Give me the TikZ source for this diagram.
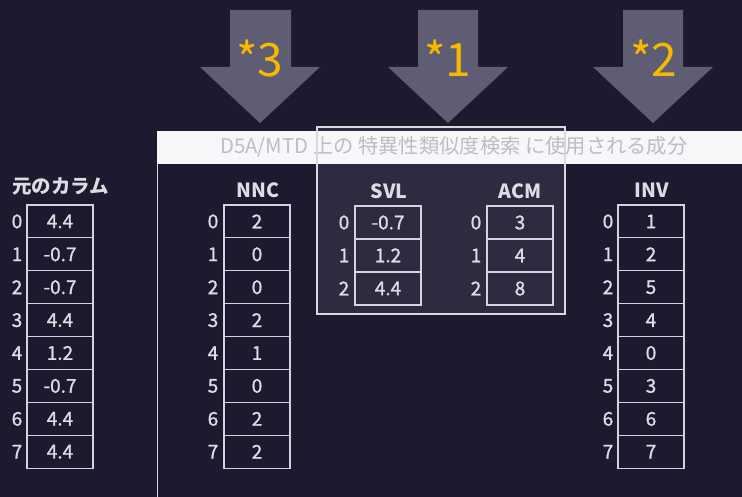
\documentclass[tikz,border=0pt]{standalone}
\usepackage{fontspec}
\setmainfont{Noto Sans CJK JP}
\newfontfamily\numfont[FakeBold=1.2]{Noto Sans CJK JP}
\definecolor{bg}{HTML}{1B1A2E}
\definecolor{hilite}{HTML}{2C2B40}
\definecolor{arrowc}{HTML}{5F5D73}
\definecolor{gold}{HTML}{F7B900}
\definecolor{txt}{HTML}{DCDCE2}
\definecolor{line}{HTML}{D4D4DC}
\definecolor{strip}{HTML}{F7F7F9}
\definecolor{striptxt}{HTML}{BDBDC2}
\tikzset{
  x=1pt, y=-1pt,
  cell/.style={draw=line, line width=1.2pt, minimum width=66pt, minimum height=32.9pt, inner sep=0pt, text=txt, font=\numfont\fontsize{19}{22}\selectfont},
  idx/.style={text=txt, font=\numfont\fontsize{19}{22}\selectfont, inner sep=0pt},
  hdr/.style={text=txt, font=\fontsize{19.5}{22}\selectfont\bfseries, inner sep=0pt},
  bigarrow/.style={fill=arrowc, draw=none},
  star/.style={text=gold, font=\fontsize{46}{50}\selectfont, inner sep=0pt, anchor=base}
}
\begin{document}
\begin{tikzpicture}
\fill[bg] (0,0) rectangle (742,497);
\useasboundingbox (0,0) rectangle (742,497);

% arrows
\fill[bigarrow] (230,10) -- (291,10) -- (291,67) -- (320,67) -- (260,123) -- (200,67) -- (230,67) -- cycle;
\fill[bigarrow] (418,10) -- (478,10) -- (478,67) -- (508,67) -- (448,123) -- (388,67) -- (418,67) -- cycle;
\fill[bigarrow] (623,10) -- (683,10) -- (683,67) -- (713,67) -- (653,123) -- (593,67) -- (623,67) -- cycle;
\node[star] (s3) at (260,77) {*3};
\node[star] (s1) at (448,77) {*1};
\node[star] (s2) at (654,77) {*2};

% highlight box fill
\fill[hilite] (317,127) rectangle (565,314);
% frame left line and strip
\draw[line, line width=1.5pt] (157.5,131) -- (157.5,497);
\fill[strip] (157,131) rectangle (742,164);
\node[text=striptxt, font=\fontsize{20.3}{23}\selectfont, inner sep=0pt] (title) at (454,147) {D5A/MTD 上の 特異性類似度検索 に使用される成分};
% highlight box outline
\draw[draw=line!90!white, line width=1.5pt] (317,127) rectangle (565,314);

% original column
\node[hdr, anchor=west] (orighdr) at (12,186) {元のカラム};
\foreach \v [count=\i from 0] in {4.4,-0.7,-0.7,4.4,1.2,-0.7,4.4,4.4} {
  \node[cell] (o\i) at (60,{205+32.9*(\i+0.5)}) {\v};
  \node[idx] (oi\i) at (17,{205+32.9*(\i+0.5)}) {\i};
}

% NNC
\node[hdr] (nnchdr) at (258,190) {NNC};
\foreach \v [count=\i from 0] in {2,0,0,2,1,0,2,2} {
  \node[cell] (n\i) at (257,{205+32.9*(\i+0.5)}) {\v};
  \node[idx] (ni\i) at (213,{205+32.9*(\i+0.5)}) {\i};
}

% SVL
\node[hdr] (svlhdr) at (389,191) {SVL};
\foreach \v [count=\i from 0] in {-0.7,1.2,4.4} {
  \node[cell] (s\i) at (388,{206+33*(\i+0.5)}) {\v};
  \node[idx] (si\i) at (344,{206+33*(\i+0.5)}) {\i};
}

% ACM
\node[hdr] (acmhdr) at (520,191) {ACM};
\foreach \v [count=\i from 0] in {3,4,8} {
  \node[cell] (a\i) at (520,{206+33*(\i+0.5)}) {\v};
  \node[idx] (ai\i) at (476,{206+33*(\i+0.5)}) {\i};
}

% INV
\node[hdr] (invhdr) at (652,190) {INV};
\foreach \v [count=\i from 0] in {1,2,5,4,0,3,6,7} {
  \node[cell] (v\i) at (651,{205+32.9*(\i+0.5)}) {\v};
  \node[idx] (vi\i) at (608,{205+32.9*(\i+0.5)}) {\i};
}
\end{tikzpicture}
\end{document}
